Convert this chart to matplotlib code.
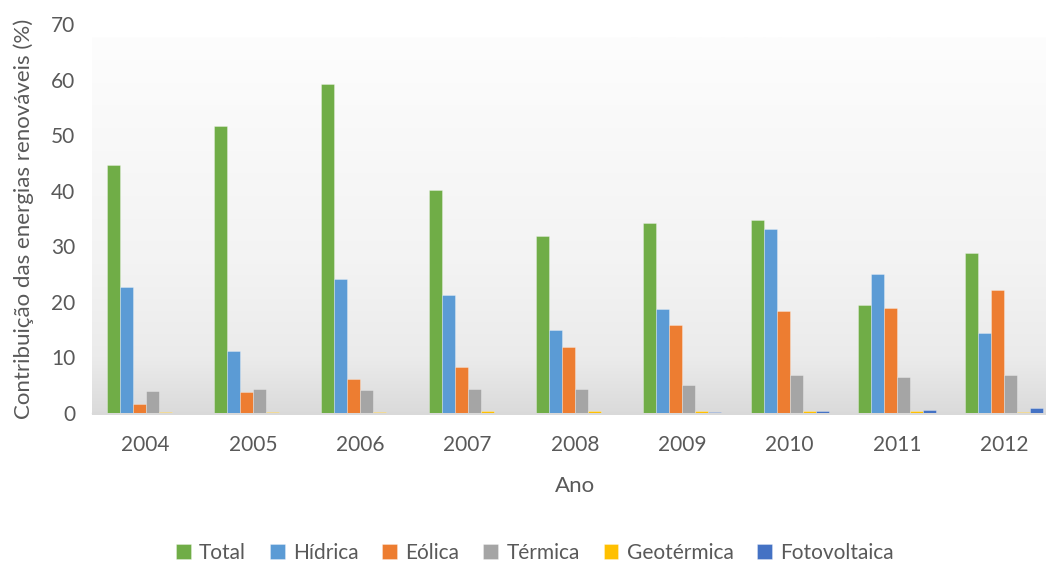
import numpy as np
import matplotlib
matplotlib.use("Agg")
import matplotlib.pyplot as plt
from matplotlib.colors import LinearSegmentedColormap

years = ["2004", "2005", "2006", "2007", "2008", "2009", "2010", "2011", "2012"]
series_names = ["Total", "Hídrica", "Eólica", "Térmica", "Geotérmica", "Fotovoltaica"]
total = [44.6, 51.6, 59.2, 40.1, 31.9, 34.2, 34.7, 19.4, 28.8]
hidrica = [22.7, 11.2, 24.1, 21.2, 14.9, 18.7, 33.1, 25.0, 14.4]
eolica = [1.7, 3.7, 6.1, 8.2, 11.9, 15.8, 18.4, 18.9, 22.1]
termica = [4.0, 4.3, 4.1, 4.3, 4.3, 5.0, 6.8, 6.5, 6.8]
geotermica = [0.1, 0.1, 0.1, 0.3, 0.3, 0.35, 0.35, 0.3, 0.2]
fotovoltaica = [0.0, 0.0, 0.0, 0.0, 0.05, 0.25, 0.4, 0.55, 0.85]
colors = ["#70ad47", "#5b9bd5", "#ed7d31", "#a5a5a5", "#ffc000", "#4472c4"]

plt.rcParams['font.family'] = ['Lato', 'DejaVu Sans']
text_col = "#595959"

fig = plt.figure(figsize=(10.46, 5.62), dpi=100)
# axes spans x 92..1058 px (clipped by the figure on the right), y 24..413 px
ax = fig.add_axes([92 / 1046, 1 - 413 / 562, (1058 - 92) / 1046, (413 - 24) / 562])

data = [total, hidrica, eolica, termica, geotermica, fotovoltaica]
x = np.arange(len(years))
n = len(data)
bw = 0.725 / n
for i, (name, vals) in enumerate(zip(series_names, data)):
    ax.bar(x + (i - (n - 1) / 2) * bw, vals, width=bw, color=colors[i], label=name,
           edgecolor=(1, 1, 1, 0.35), linewidth=0.6, zorder=3)

# subtle gradient background, light at top, grey at the bottom
cmap = LinearSegmentedColormap.from_list(
    "bg", [(0, "#fdfdfd"), (0.6, "#f3f3f3"), (0.85, "#ebebeb"), (1.0, "#dadada")])
grad = np.linspace(0, 1, 256).reshape(-1, 1)
ax.imshow(grad, aspect="auto", cmap=cmap, extent=(-0.5, len(years) - 0.5, -0.4, 67.5),
          origin="upper", zorder=0, clip_on=False, vmin=0, vmax=1)
ax.set_xlim(-0.5, len(years) - 0.5)
ax.set_ylim(0, 70)

for s in ["top", "right", "left"]:
    ax.spines[s].set_visible(False)
ax.spines["bottom"].set_color("#d9d9d9")
ax.spines["bottom"].set_linewidth(1.0)

ax.set_xticks(x)
ax.set_xticklabels(years)
ax.set_yticks(range(0, 71, 10))
ax.tick_params(axis="x", length=0, labelsize=15, colors=text_col, pad=16)
ax.tick_params(axis="y", length=0, labelsize=15, colors=text_col, pad=12)

ax.set_xlabel("Ano", fontsize=16, color=text_col, labelpad=15)
ax.set_ylabel("Contribuição das energias renováveis (%)", fontsize=16, color=text_col, labelpad=12)

handles, labels = ax.get_legend_handles_labels()
leg = fig.legend(handles, labels, loc="center", bbox_to_anchor=(535 / 1046, 1 - 553 / 562),
                 ncol=6, frameon=False, fontsize=15, handlelength=0.7, handleheight=0.7,
                 handletextpad=0.4, columnspacing=1.15)
for t in leg.get_texts():
    t.set_color(text_col)

fig.savefig("out.png", dpi=100)
